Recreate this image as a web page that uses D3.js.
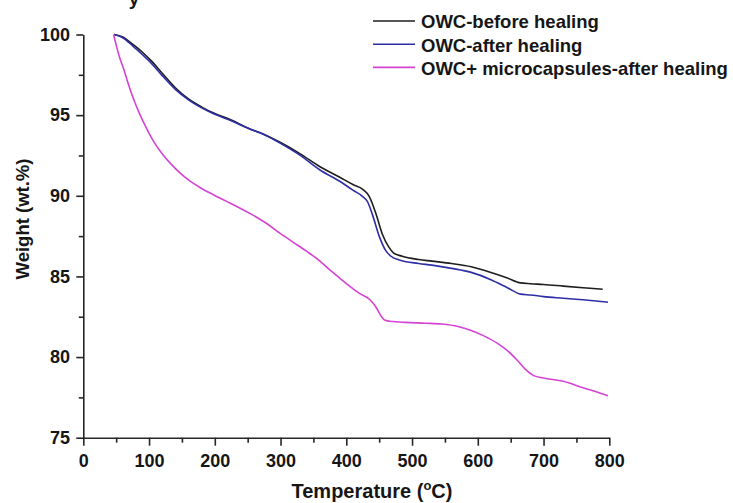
<!DOCTYPE html>
<html>
<head>
<meta charset="utf-8">
<script src="https://cdn.jsdelivr.net/npm/d3@7"></script>
<style>
  html, body { margin: 0; padding: 0; background: #fff; }
  svg { display: block; font-family: "Liberation Sans", Arial, sans-serif; font-weight: bold; }
</style>
</head>
<body>
<svg id="chart" width="733" height="503"></svg>
<script>
// TGA curves: weight retained vs. temperature
const seriesNames = ["OWC-before healing", "OWC-after healing", "OWC+ microcapsules-after healing"];
const seriesColors = ["#1e1e1e", "#2e2ea6", "#d443d4"];

const beforeTemp = [47, 60, 75, 90, 105, 120, 140, 160, 180, 200, 225, 250, 275, 300, 330, 360, 390, 410, 425, 435, 445, 455, 465, 472, 485, 510, 530, 560, 590, 620, 645, 665, 680, 700, 730, 760, 790];
const beforeWeight = [100.0, 99.85, 99.4, 98.9, 98.3, 97.6, 96.7, 96.0, 95.5, 95.1, 94.7, 94.2, 93.8, 93.3, 92.6, 91.8, 91.15, 90.7, 90.4, 89.95, 88.9, 87.6, 86.8, 86.45, 86.25, 86.05, 85.95, 85.8, 85.6, 85.25, 84.9, 84.6, 84.55, 84.5, 84.4, 84.3, 84.2];

const afterTemp = [47, 60, 75, 90, 105, 120, 140, 160, 180, 200, 225, 250, 275, 300, 330, 360, 390, 410, 425, 432, 440, 450, 460, 468, 482, 510, 530, 560, 590, 620, 645, 665, 680, 700, 730, 760, 798];
const afterWeight = [100.0, 99.8, 99.3, 98.75, 98.15, 97.45, 96.6, 95.95, 95.45, 95.05, 94.65, 94.2, 93.8, 93.25, 92.5, 91.6, 90.9, 90.35, 89.95, 89.65, 88.8, 87.5, 86.6, 86.25, 86.0, 85.8, 85.7, 85.5, 85.25, 84.8, 84.3, 83.9, 83.85, 83.75, 83.65, 83.55, 83.4];

const capsTemp = [46, 50, 55, 61, 68, 76, 86, 96, 108, 122, 135, 147, 160, 178, 200, 223, 240, 258, 280, 300, 320, 340, 360, 375, 390, 405, 420, 436, 445, 452, 458, 470, 490, 520, 545, 570, 590, 610, 630, 645, 660, 672, 685, 700, 730, 760, 780, 798];
const capsWeight = [100.0, 99.35, 98.6, 97.9, 97.0, 96.05, 95.05, 94.2, 93.3, 92.5, 91.9, 91.42, 90.98, 90.5, 90.02, 89.55, 89.2, 88.8, 88.25, 87.65, 87.1, 86.55, 85.95, 85.4, 84.9, 84.4, 83.95, 83.55, 83.1, 82.6, 82.3, 82.2, 82.15, 82.1, 82.05, 81.9, 81.65, 81.3, 80.85, 80.4, 79.8, 79.25, 78.85, 78.7, 78.5, 78.1, 77.85, 77.6];

const xMajorTicks = [0, 100, 200, 300, 400, 500, 600, 700, 800];
const xMinorTicks = [50, 150, 250, 350, 450, 550, 650, 750];
const yMajorTicks = [75, 80, 85, 90, 95, 100];
const yMinorTicks = [77.5, 82.5, 87.5, 92.5, 97.5];

const series = [
  { name: seriesNames[0], color: seriesColors[0], pts: d3.zip(beforeTemp, beforeWeight) },
  { name: seriesNames[1], color: seriesColors[1], pts: d3.zip(afterTemp, afterWeight) },
  { name: seriesNames[2], color: seriesColors[2], pts: d3.zip(capsTemp, capsWeight) }
];

const svg = d3.select("#chart");
const x = d3.scaleLinear().domain([0, 800]).range([83.3, 609.3]);
const y = d3.scaleLinear().domain([75, 100]).range([437.7, 34.5]);
const axisColor = "#262626";
const textColor = "#161616";

// cropped glyph left over at the very top edge
svg.append("text").attr("x", 134).attr("y", 5).attr("text-anchor", "middle")
  .attr("font-size", 19).attr("fill", textColor).text("y");

// x axis
const gx = svg.append("g").attr("transform", `translate(0,${y(75)})`);
gx.call(d3.axisBottom(x).tickValues(xMajorTicks).tickSize(8).tickSizeOuter(0).tickPadding(8.5).tickFormat(d3.format("d")));
gx.append("g").call(d3.axisBottom(x).tickValues(xMinorTicks).tickSize(5).tickSizeOuter(0).tickFormat(""))
  .select(".domain").remove();

// y axis
const gy = svg.append("g").attr("transform", `translate(${x(0)},0)`);
gy.call(d3.axisLeft(y).tickValues(yMajorTicks).tickSize(7).tickSizeOuter(0).tickPadding(6.3).tickFormat(d3.format("d")));
gy.append("g").call(d3.axisLeft(y).tickValues(yMinorTicks).tickSize(4.5).tickSizeOuter(0).tickFormat(""))
  .select(".domain").remove();

svg.selectAll(".domain, .tick line").attr("stroke", axisColor).attr("stroke-width", 1.6);
svg.selectAll(".tick text").attr("font-size", 18).attr("font-family", "Liberation Sans, Arial, sans-serif")
  .attr("font-weight", "bold").attr("fill", textColor);

// axis titles
const xt = svg.append("text").attr("x", 372).attr("y", 497.5).attr("text-anchor", "middle")
  .attr("font-size", 20).attr("fill", textColor);
xt.append("tspan").text("Temperature (");
xt.append("tspan").attr("font-size", 13).attr("dy", -8).text("o");
xt.append("tspan").attr("dy", 8).text("C)");

svg.append("text").attr("transform", "translate(29,219) rotate(-90)").attr("text-anchor", "middle")
  .attr("font-size", 18.5).attr("fill", textColor).text("Weight (wt.%)");

// curves
const line = d3.line().x(d => x(d[0])).y(d => y(d[1])).curve(d3.curveMonotoneX);
svg.append("g").selectAll("path").data(series).join("path")
  .attr("d", d => line(d.pts))
  .attr("fill", "none")
  .attr("stroke", d => d.color)
  .attr("stroke-width", 1.6)
  .attr("stroke-linejoin", "round");

// legend
const lg = svg.append("g").selectAll("g").data(series).join("g")
  .attr("transform", (d, i) => `translate(0,${21 + i * 23.2})`);
lg.append("line").attr("x1", 373).attr("x2", 415).attr("y1", 0).attr("y2", 0)
  .attr("stroke", d => d.color).attr("stroke-width", 1.6);
lg.append("text").attr("x", 421).attr("y", 7.3).attr("font-size", 18.5).attr("fill", textColor)
  .text(d => d.name);
</script>
</body>
</html>
